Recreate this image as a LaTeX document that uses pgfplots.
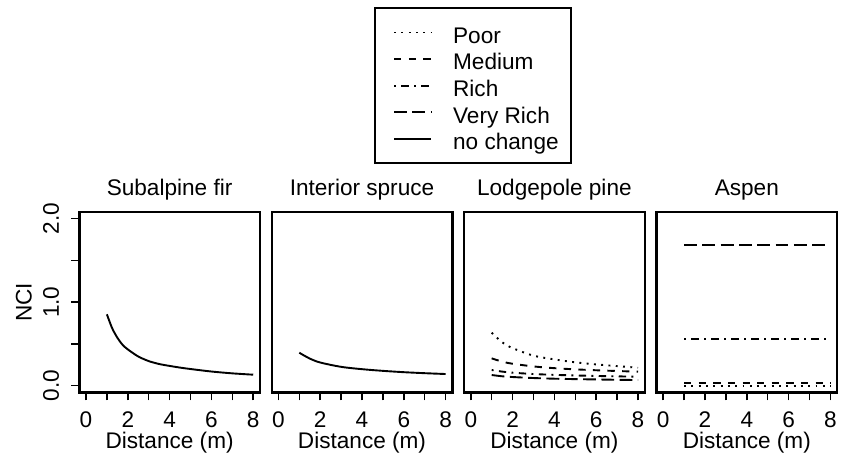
\documentclass[border=0pt]{standalone}
\usepackage{fontspec}
\setmainfont{Liberation Sans}
\usepackage{pgfplots}
\pgfplotsset{compat=1.18}

\tikzset{
  poor/.style={black, line width=1.9pt, line cap=butt, dash pattern=on 1.9pt off 5.4pt},
  medium/.style={black, line width=1.9pt, line cap=butt, dash pattern=on 7.3pt off 7.3pt},
  rich/.style={black, line width=1.9pt, line cap=butt, dash pattern=on 1.9pt off 5.4pt on 7.3pt off 5.4pt},
  vrich/.style={black, line width=1.9pt, line cap=butt, dash pattern=on 12.8pt off 5.5pt},
  nochange/.style={black, line width=1.9pt, solid},
}
\newcommand{\bigfont}{\fontsize{22.6}{27}\selectfont}
\pgfplotsset{
  panel/.style={
    scale only axis, width=180.6pt, height=180.4pt, anchor=south west,
    xmin=-0.32, xmax=8.32, ymin=-0.08, ymax=2.08,
    axis line style={line width=2.4pt},
    xtick={0,1,2,3,4,5,6,7,8}, xticklabels={0,,2,,4,,6,,8},
    xtick pos=left, ytick pos=left,
    tick align=outside, major tick length=8pt,
    every tick/.style={black, line width=1.5pt},
    tick label style={font=\bigfont},
    /pgf/number format/assume math mode=true,
    xticklabel style={anchor=north, inner sep=0pt},
    yticklabel style={rotate=90, anchor=south, inner sep=0pt},
    xticklabel shift=11pt, yticklabel shift=12pt,
    title style={font=\bigfont, at={(axis description cs:0.5,1)}, anchor=base, yshift=10.5pt, inner sep=0pt},
    xlabel style={font=\bigfont, at={(axis description cs:0.5,0)}, anchor=base, yshift=-56.6pt, inner sep=0pt},
    ylabel style={font=\bigfont, at={(axis description cs:-0.262,0.5)}, anchor=south, inner sep=0pt},
    xlabel={Distance (m)},
    ytick=\empty,
  }
}

\begin{document}
\begin{tikzpicture}
\path[use as bounding box] (0pt,0pt) rectangle (843pt,460pt);

% Panel 1
\begin{axis}[panel, at={(79.3pt,67.6pt)}, title={Subalpine fir}, ylabel={NCI},
  ytick={0,0.5,1,1.5,2}, yticklabels={0.0,,1.0,,2.0},
  legend style={at={(axis description cs:1.632,2.136)}, anchor=north west,
    draw=black, line width=2.4pt, inner xsep=12pt, inner ysep=8pt,
    column sep=21pt, row sep=-5.75pt,
    nodes={inner sep=0pt, text height=27pt, text depth=5.4pt, font=\bigfont}},
  legend cell align=left,
  legend image code/.code={\path (0pt,0pt); \draw[#1] (6pt,0pt) -- (43pt,0pt);}]
\addlegendimage{poor}\addlegendentry{Poor}
\addlegendimage{medium}\addlegendentry{Medium}
\addlegendimage{rich}\addlegendentry{Rich}
\addlegendimage{vrich}\addlegendentry{Very Rich}
\addlegendimage{nochange}\addlegendentry{no change}
\addplot[nochange, smooth, forget plot] coordinates {
(1,0.855) (1.25,0.69) (1.5,0.575) (1.75,0.49) (2,0.435) (2.5,0.35) (3,0.295)
(3.5,0.26) (4,0.237) (4.5,0.217) (5,0.2) (6,0.17) (7,0.148) (8,0.132)};
\end{axis}

% Panel 2
\begin{axis}[panel, at={(271.7pt,67.6pt)}, title={Interior spruce}]
\addplot[nochange, smooth] coordinates {
(1,0.395) (1.5,0.325) (2,0.278) (3,0.226) (4,0.198) (5,0.178) (6,0.162) (7,0.150) (8,0.140)};
\end{axis}

% Panel 3
\begin{axis}[panel, at={(464.1pt,67.6pt)}, title={Lodgepole pine}]
\addplot[poor, smooth] coordinates {
(1,0.635) (1.5,0.52) (2,0.45) (3,0.36) (4,0.315) (5,0.28) (6,0.255) (7,0.235) (8,0.215)};
\addplot[medium, smooth] coordinates {
(1,0.328) (1.5,0.288) (2,0.263) (3,0.231) (4,0.21) (5,0.196) (6,0.185) (7,0.176) (8,0.168)};
\addplot[rich, smooth] coordinates {
(1,0.188) (1.5,0.169) (2,0.156) (3,0.14) (4,0.13) (5,0.123) (6,0.117) (7,0.112) (8,0.108)};
\addplot[vrich, smooth] coordinates {
(1,0.128) (1.5,0.113) (2,0.104) (3,0.092) (4,0.084) (5,0.079) (6,0.075) (7,0.071) (8,0.068)};
\end{axis}

% Panel 4
\begin{axis}[panel, at={(656.5pt,67.6pt)}, title={Aspen}]
\addplot[poor] coordinates {(1,0.0) (8,0.0)};
\addplot[medium] coordinates {(1,0.035) (8,0.035)};
\addplot[rich] coordinates {(1,0.56) (8,0.56)};
\addplot[vrich] coordinates {(1,1.68) (8,1.68)};
\end{axis}
\end{tikzpicture}
\end{document}
